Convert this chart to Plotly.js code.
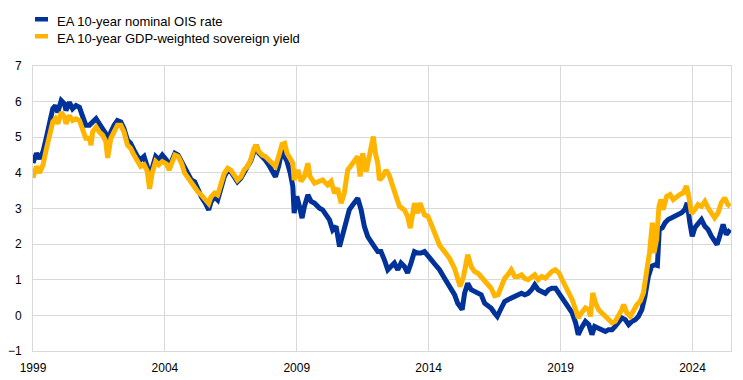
<!DOCTYPE html>
<html>
<head>
<meta charset="utf-8">
<script src="https://cdn.plot.ly/plotly-3.0.1.min.js"></script>
<style>
html,body{margin:0;padding:0;background:#fff;}
#chart{width:743px;height:380px;}
</style>
</head>
<body>
<div id="chart"></div>
<script>
// Series names
const seriesNames = ["EA 10-year nominal OIS rate", "EA 10-year GDP-weighted sovereign yield"];

// Tick values / labels (x axis in decimal years)
const xTickVals = [1999, 2004, 2009, 2014, 2019, 2024];
const xTickText = ["1999", "2004", "2009", "2014", "2019", "2024"];
const yTickVals = [-1, 0, 1, 2, 3, 4, 5, 6, 7];

// EA 10-year nominal OIS rate (decimal year, %)
const oisYears = [1999.0,1999.13,1999.25,1999.38,1999.5,1999.63,1999.75,1999.85,1999.94,2000.07,2000.19,2000.25,2000.38,2000.5,2000.63,2000.76,2000.88,2001.0,2001.14,2001.26,2001.39,2001.51,2001.64,2001.76,2001.83,2001.95,2002.08,2002.2,2002.33,2002.45,2002.58,2002.7,2002.83,2002.96,2003.08,2003.21,2003.33,2003.42,2003.52,2003.65,2003.77,2003.9,2004.06,2004.16,2004.25,2004.38,2004.5,2004.63,2004.75,2004.88,2005.0,2005.13,2005.25,2005.38,2005.54,2005.66,2005.75,2005.88,2006.0,2006.13,2006.25,2006.38,2006.5,2006.63,2006.75,2006.88,2007.0,2007.13,2007.25,2007.38,2007.46,2007.56,2007.69,2007.81,2007.94,2008.06,2008.19,2008.31,2008.44,2008.54,2008.63,2008.75,2008.85,2008.9,2009.0,2009.1,2009.2,2009.29,2009.42,2009.54,2009.67,2009.86,2009.98,2010.11,2010.24,2010.36,2010.49,2010.62,2010.74,2010.87,2010.99,2011.12,2011.25,2011.31,2011.44,2011.56,2011.69,2011.82,2011.94,2012.07,2012.19,2012.32,2012.45,2012.57,2012.7,2012.83,2012.95,2013.08,2013.2,2013.33,2013.46,2013.58,2013.71,2013.84,2013.97,2014.1,2014.22,2014.41,2014.6,2014.79,2014.98,2015.1,2015.27,2015.36,2015.48,2015.61,2015.74,2015.87,2015.99,2016.12,2016.25,2016.37,2016.5,2016.6,2016.75,2016.88,2017.0,2017.13,2017.26,2017.39,2017.52,2017.64,2017.77,2017.9,2018.02,2018.15,2018.28,2018.42,2018.54,2018.67,2018.81,2018.94,2019.06,2019.19,2019.31,2019.44,2019.57,2019.67,2019.79,2019.94,2020.07,2020.19,2020.29,2020.44,2020.57,2020.7,2020.82,2020.95,2021.07,2021.2,2021.32,2021.45,2021.58,2021.7,2021.83,2021.95,2022.08,2022.2,2022.33,2022.45,2022.58,2022.67,2022.74,2022.86,2022.96,2023.08,2023.21,2023.33,2023.46,2023.59,2023.71,2023.8,2023.9,2023.99,2024.09,2024.21,2024.34,2024.47,2024.59,2024.72,2024.84,2024.93,2025.03,2025.16,2025.28,2025.43];
const oisRates = [4.28,4.55,4.4,4.6,4.97,5.43,5.8,5.89,5.7,6.03,5.94,5.75,5.98,5.8,5.89,5.84,5.61,5.34,5.34,5.43,5.52,5.38,5.24,5.1,4.6,5.15,5.34,5.47,5.43,5.24,4.92,4.83,4.64,4.46,4.37,4.46,4.18,3.77,4.14,4.46,4.37,4.5,4.36,4.15,4.32,4.55,4.5,4.32,4.08,3.94,3.8,3.75,3.52,3.33,3.14,2.96,3.19,3.33,3.24,3.61,3.89,4.08,4.03,3.89,3.75,3.85,4.03,4.18,4.32,4.6,4.78,4.55,4.46,4.36,4.22,4.08,3.89,4.18,4.64,4.46,4.32,4.0,3.62,2.87,3.34,3.06,2.73,3.06,3.38,3.2,3.15,3.01,2.96,2.82,2.68,2.4,2.5,1.93,2.31,2.68,2.96,3.1,3.24,3.29,2.96,2.5,2.21,2.03,1.93,1.79,1.79,1.56,1.28,1.37,1.47,1.28,1.47,1.37,1.19,1.47,1.79,1.75,1.75,1.79,1.65,1.56,1.45,1.28,1.04,0.81,0.58,0.34,0.16,0.62,0.9,0.72,0.67,0.62,0.58,0.34,0.25,0.2,0.06,-0.03,0.2,0.39,0.44,0.48,0.53,0.58,0.62,0.58,0.62,0.72,0.86,0.72,0.67,0.62,0.72,0.76,0.76,0.62,0.5,0.39,0.25,0.07,-0.21,-0.54,-0.35,-0.17,-0.26,-0.54,-0.31,-0.35,-0.4,-0.45,-0.4,-0.4,-0.31,-0.21,-0.07,-0.12,-0.26,-0.17,-0.12,-0.03,0.16,0.54,1.1,1.38,1.42,1.4,2.41,2.46,2.6,2.69,2.74,2.78,2.83,2.88,2.97,3.16,2.6,2.22,2.46,2.6,2.69,2.5,2.41,2.22,2.08,1.99,2.22,2.55,2.27,2.41];

// EA 10-year GDP-weighted sovereign yield (decimal year, %)
const yieldYears = [1999.0,1999.13,1999.25,1999.38,1999.5,1999.63,1999.75,1999.85,1999.94,2000.07,2000.19,2000.25,2000.38,2000.5,2000.63,2000.76,2000.88,2001.0,2001.14,2001.2,2001.26,2001.39,2001.51,2001.64,2001.76,2001.83,2001.95,2002.08,2002.2,2002.33,2002.45,2002.58,2002.7,2002.83,2002.96,2003.08,2003.21,2003.33,2003.42,2003.52,2003.65,2003.77,2003.9,2004.06,2004.16,2004.25,2004.38,2004.5,2004.63,2004.75,2004.88,2005.0,2005.13,2005.25,2005.38,2005.54,2005.66,2005.75,2005.88,2006.0,2006.13,2006.25,2006.38,2006.5,2006.63,2006.75,2006.88,2007.0,2007.13,2007.25,2007.38,2007.46,2007.56,2007.69,2007.81,2007.94,2008.06,2008.19,2008.31,2008.44,2008.54,2008.63,2008.75,2008.85,2008.9,2009.04,2009.16,2009.29,2009.42,2009.5,2009.67,2009.86,2009.98,2010.17,2010.3,2010.43,2010.55,2010.68,2010.8,2010.93,2011.06,2011.18,2011.31,2011.4,2011.5,2011.63,2011.75,2011.85,2011.9,2011.98,2012.07,2012.13,2012.26,2012.38,2012.5,2012.64,2012.76,2012.89,2013.08,2013.2,2013.3,2013.46,2013.58,2013.67,2013.84,2013.97,2014.1,2014.22,2014.41,2014.6,2014.79,2014.98,2015.1,2015.19,2015.32,2015.42,2015.48,2015.61,2015.74,2015.87,2015.99,2016.12,2016.25,2016.37,2016.5,2016.63,2016.75,2016.88,2017.0,2017.13,2017.26,2017.39,2017.52,2017.64,2017.77,2017.9,2018.02,2018.15,2018.28,2018.42,2018.54,2018.67,2018.8,2018.94,2019.06,2019.19,2019.31,2019.44,2019.57,2019.67,2019.79,2019.94,2020.07,2020.13,2020.22,2020.32,2020.44,2020.57,2020.7,2020.82,2020.95,2021.07,2021.2,2021.32,2021.39,2021.51,2021.64,2021.76,2021.89,2022.02,2022.14,2022.27,2022.37,2022.48,2022.54,2022.64,2022.73,2022.81,2022.89,2023.02,2023.15,2023.27,2023.4,2023.52,2023.65,2023.77,2023.86,2023.96,2024.09,2024.21,2024.34,2024.47,2024.59,2024.72,2024.84,2024.97,2025.09,2025.22,2025.34,2025.43];
const yieldRates = [3.86,4.18,4.0,4.23,4.65,5.06,5.43,5.52,5.38,5.7,5.57,5.38,5.61,5.47,5.52,5.47,5.24,4.97,4.97,4.78,5.15,5.29,5.15,5.06,4.88,4.42,4.97,5.15,5.34,5.34,5.15,4.78,4.69,4.5,4.32,4.18,4.23,4.05,3.55,4.0,4.32,4.23,4.32,4.25,4.08,4.27,4.5,4.46,4.27,3.99,3.85,3.71,3.61,3.47,3.38,3.24,3.14,3.33,3.43,3.38,3.71,3.99,4.13,4.08,3.94,3.8,3.89,4.08,4.18,4.36,4.69,4.78,4.6,4.5,4.46,4.36,4.27,4.18,4.46,4.8,4.83,4.55,4.4,4.27,3.8,4.08,3.76,3.9,4.27,3.9,3.71,3.76,3.8,3.66,3.76,3.43,3.57,3.15,3.43,4.08,4.22,4.32,4.46,3.9,4.55,4.04,4.55,4.93,5.02,4.55,4.27,3.8,3.9,4.08,3.94,3.62,3.34,3.06,2.96,2.78,2.45,3.15,2.87,3.15,2.82,2.78,2.55,2.3,1.97,1.79,1.6,1.32,1.0,0.81,1.09,1.6,1.7,1.37,1.23,1.18,1.09,1.0,0.86,0.76,0.55,0.58,0.81,1.04,1.14,1.28,1.09,1.09,1.14,1.04,1.0,1.09,1.14,1.0,1.09,1.04,1.14,1.23,1.28,1.19,1.0,0.82,0.68,0.44,0.16,-0.07,0.07,0.21,0.16,-0.03,0.63,0.35,0.16,0.07,-0.03,-0.12,-0.21,-0.17,-0.03,0.16,0.3,0.07,-0.03,0.16,0.3,0.4,0.63,1.28,1.75,2.6,1.75,2.13,3.06,3.25,2.97,3.34,3.39,3.25,3.34,3.39,3.44,3.63,3.34,2.86,2.97,3.11,3.06,3.2,3.02,2.88,2.74,2.88,3.16,3.3,3.11,3.06];

const blue = "#003299";
const yellow = "#FFB400";
const W = 743, H = 380;
const M = {l: 33, r: 12, t: 66, b: 29};
const pw = W - M.l - M.r, ph = H - M.t - M.b;
const px = x => (x - M.l) / pw;          // pixel -> paper x
const py = y => (H - M.b - y) / ph;      // pixel -> paper y

const traces = [
  {x: oisYears, y: oisRates, type: "scatter", mode: "lines", name: seriesNames[0],
   line: {color: blue, width: 5}, showlegend: false, hoverinfo: "skip"},
  {x: yieldYears, y: yieldRates, type: "scatter", mode: "lines", name: seriesNames[1],
   line: {color: yellow, width: 5}, showlegend: false, hoverinfo: "skip"}
];

const legendRows = [{c: blue, y: 21}, {c: yellow, y: 38}];
const shapes = legendRows.map(r => ({
  type: "rect", xref: "paper", yref: "paper",
  x0: px(35), x1: px(48), y0: py(r.y + 0.5), y1: py(r.y - 4),
  fillcolor: r.c, line: {width: 0}
}));
const annotations = legendRows.map((r, i) => ({
  xref: "paper", yref: "paper", x: px(55), y: py(r.y + 1), xanchor: "left", yanchor: "middle",
  text: seriesNames[i], showarrow: false,
  font: {family: "Liberation Sans, Arial, sans-serif", size: 13, color: "#000"}
}));

const layout = {
  width: W, height: H,
  margin: M,
  paper_bgcolor: "#fff", plot_bgcolor: "#fff",
  font: {family: "Liberation Sans, Arial, sans-serif", size: 12, color: "#000"},
  showlegend: false,
  xaxis: {
    type: "linear", range: [1999, 2025.46],
    tickmode: "array", tickvals: xTickVals, ticktext: xTickText,
    showgrid: true, gridcolor: "#d9d9d9", gridwidth: 1,
    showline: true, linecolor: "#d9d9d9", linewidth: 1, mirror: true,
    ticks: "", zeroline: false, ticklabelstandoff: 6,
    tickfont: {size: 12, color: "#000"}
  },
  yaxis: {
    range: [-1, 7], tickmode: "array", tickvals: yTickVals,
    showgrid: true, gridcolor: "#d9d9d9", gridwidth: 1,
    showline: true, linecolor: "#d9d9d9", linewidth: 1, mirror: true,
    ticks: "", zeroline: false, ticklabelstandoff: 8,
    tickfont: {size: 12, color: "#000"}
  },
  shapes: shapes,
  annotations: annotations
};

Plotly.newPlot("chart", traces, layout, {staticPlot: true, displayModeBar: false});
</script>
</body>
</html>
